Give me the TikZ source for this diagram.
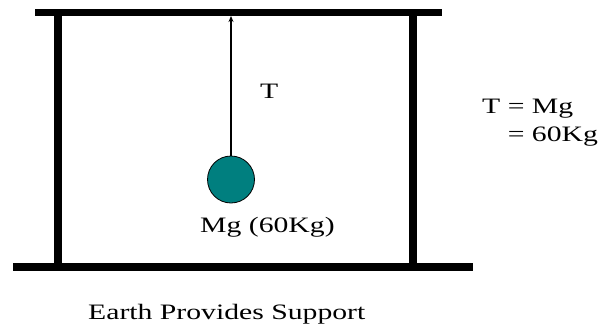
\documentclass[tikz,border=0pt]{standalone}
\usepackage{fontspec}
\setmainfont{Liberation Serif}
\usepackage{graphicx}
\definecolor{ballc}{HTML}{007F7F}
\usetikzlibrary{arrows.meta,positioning}
\newcommand{\wtxt}[1]{\scalebox{1.35}[1]{#1}}
\tikzset{
  >={Stealth[length=6pt,width=5pt]},
  bar/.style={line width=7pt},
  gnd/.style={line width=8.5pt},
  post/.style={line width=8pt},
  rope/.style={->,line width=1.3pt},
  lab/.style={font=\fontsize{22}{26}\selectfont,inner sep=0pt,anchor=base west},
  mass/.style={circle,draw=black,line width=0.8pt,fill=ballc,minimum size=47pt,inner sep=0pt},
}
\begin{document}
\begin{tikzpicture}[x=1pt,y=-1pt]
\useasboundingbox (0,0) rectangle (600,327);
% frame
\coordinate (topl) at (35,12.7);
\coordinate (topr) at (442,12.7);
\coordinate (botl) at (13,267);
\coordinate (botr) at (473,267);
\coordinate (hook) at (231,16);
\draw[bar] (topl) -- (topr);
\draw[gnd] (botl) -- (botr);
\draw[post] (57.5,12.7) -- (57.5,267);
\draw[post] (412.5,12.7) -- (412.5,267);
% hanging mass
\node[mass] (ball) at (231,179.5) {};
\draw[rope] (ball.north) -- (hook);
\node[lab] (tlab) at (260,98) {\wtxt{T}};
\node[lab] (mlab) at (200,232.5) {\wtxt{Mg (60Kg)}};
\node[lab] (eq1) at (482,113.5) {\wtxt{T = Mg}};
\node[lab] (eq2) at ([yshift=-27.5pt]eq1.base west) {\wtxt{\hphantom{T} = 60Kg}};
\node[lab] (earth) at (88,319.5) {\wtxt{Earth Provides Support}};
\end{tikzpicture}
\end{document}
